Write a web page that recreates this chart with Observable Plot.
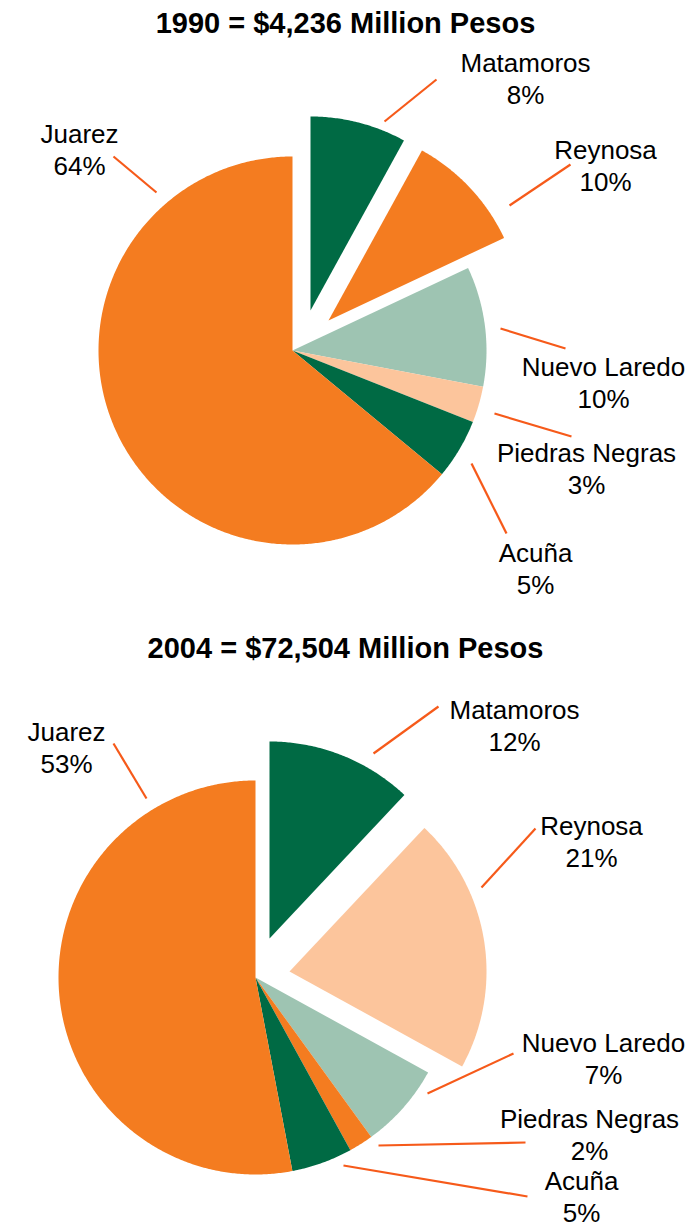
<!DOCTYPE html>
<html>
<head>
<meta charset="utf-8">
<script src="https://cdn.jsdelivr.net/npm/d3@7"></script>
<script src="https://cdn.jsdelivr.net/npm/@observablehq/plot@0.6"></script>
<style>
  html, body { margin: 0; padding: 0; background: #fff; }
  #page { position: relative; width: 691px; height: 1228px; overflow: hidden; background: #fff; }
  .title { position: absolute; left: 0; width: 691px; text-align: center;
           font: 700 29px "Liberation Sans", Arial, sans-serif; line-height: 34px; color: #000; }
  .plot { position: absolute; left: 0; }
</style>
</head>
<body>
<div id="page"></div>
<script>
// ---- data ----
const cities = ["Matamoros", "Reynosa", "Nuevo Laredo", "Piedras Negras", "Acuña", "Juarez"];
const share1990 = [8, 10, 10, 3, 5, 64];
const share2004 = [12, 21, 7, 2, 5, 53];
const titles = ["1990 = $4,236 Million Pesos", "2004 = $72,504 Million Pesos"];

// ---- styles ----
const C = { dkgreen: "#006a44", orange: "#f47c20", ltgreen: "#9ec4b2", peach: "#fcc59c" };
const colors1990 = [C.dkgreen, C.orange, C.ltgreen, C.peach, C.dkgreen, C.orange];
const colors2004 = [C.dkgreen, C.peach, C.ltgreen, C.orange, C.dkgreen, C.orange];
const leaderColor = "#f65a1a";

// ---- layout (page pixel coordinates) ----
const layouts = [
  {
    titleTop: 6, top: 46, bottom: 600, cx: 292, cy: 350, r: 194,
    explode: { "Matamoros": [18, -40], "Reynosa": [36, -30] },
    labels: {
      "Matamoros": [525, 103], "Reynosa": [605, 190], "Nuevo Laredo": [603, 407],
      "Piedras Negras": [586, 493], "Acuña": [535, 593], "Juarez": [79, 174]
    },
    leaders: {
      "Matamoros": [384, 121, 436, 79], "Reynosa": [509, 205, 570, 164],
      "Nuevo Laredo": [500, 328, 565, 348], "Piedras Negras": [494, 413, 571, 436],
      "Acuña": [471, 463, 506, 533], "Juarez": [113, 156, 156, 192]
    }
  },
  {
    titleTop: 631, top: 670, bottom: 1228, cx: 255, cy: 977, r: 197,
    explode: { "Matamoros": [14, -39], "Reynosa": [34, -6] },
    labels: {
      "Matamoros": [514, 750], "Reynosa": [591, 866], "Nuevo Laredo": [603, 1083],
      "Piedras Negras": [589, 1159], "Acuña": [581, 1221], "Juarez": [66, 772]
    },
    leaders: {
      "Matamoros": [373, 753, 438, 706], "Reynosa": [481, 887, 535, 828],
      "Nuevo Laredo": [427, 1093, 513, 1053], "Piedras Negras": [378, 1145, 525, 1142],
      "Acuña": [343, 1165, 527, 1196], "Juarez": [113, 743, 146, 798]
    }
  }
];

const page = document.getElementById("page");
const series = [share1990, share2004];
const palettes = [colors1990, colors2004];

series.forEach((values, k) => {
  const L = layouts[k];
  const rows = cities.map((c, i) => ({ city: c, value: values[i], color: palettes[k][i] }));
  const arcs = d3.pie().sort(null).value(d => d.value)(rows);

  // slice polygons (apex + arc points)
  const pts = [];
  arcs.forEach(a => {
    const [ex, ey] = L.explode[a.data.city] || [0, 0];
    const ox = L.cx + ex, oy = L.cy + ey;
    pts.push({ city: a.data.city, color: a.data.color, x: ox, y: oy });
    const n = Math.max(2, Math.ceil((a.endAngle - a.startAngle) / (Math.PI / 360)));
    for (let j = 0; j <= n; j++) {
      const t = a.startAngle + (a.endAngle - a.startAngle) * j / n;
      pts.push({ city: a.data.city, color: a.data.color, x: ox + L.r * Math.sin(t), y: oy - L.r * Math.cos(t) });
    }
    pts.push({ city: a.data.city, color: a.data.color, x: ox, y: oy });
  });

  const leaders = rows.map(d => {
    const [x1, y1, x2, y2] = L.leaders[d.city];
    return { city: d.city, x1, y1, x2, y2 };
  });
  const labels = rows.map(d => ({
    text: `${d.city}\n${d.value}%`, x: L.labels[d.city][0], y: L.labels[d.city][1]
  }));

  const H = L.bottom - L.top;
  const svg = Plot.plot({
    width: 691, height: H, margin: 0,
    x: { domain: [0, 691], range: [0, 691], axis: null },
    y: { domain: [L.top, L.bottom], range: [0, H], axis: null },
    color: { type: "identity" },
    style: { background: "transparent", overflow: "visible" },
    marks: [
      Plot.line(pts, { x: "x", y: "y", z: "city", fill: "color", stroke: "none", curve: "linear" }),
      Plot.link(leaders, { x1: "x1", y1: "y1", x2: "x2", y2: "y2", stroke: leaderColor, strokeWidth: 2.2 }),
      Plot.text(labels, {
        x: "x", y: "y", text: "text", textAnchor: "middle", lineAnchor: "bottom",
        lineHeight: 1.22, fontSize: 26, fontFamily: "'Liberation Sans', Arial, sans-serif", fill: "#000"
      })
    ]
  });
  svg.classList.add("plot");
  svg.style.position = "absolute";
  svg.style.top = L.top + "px";
  svg.style.left = "0px";

  const t = document.createElement("div");
  t.className = "title";
  t.style.top = L.titleTop + "px";
  t.textContent = titles[k];
  page.appendChild(t);
  page.appendChild(svg);
});
</script>
</body>
</html>
